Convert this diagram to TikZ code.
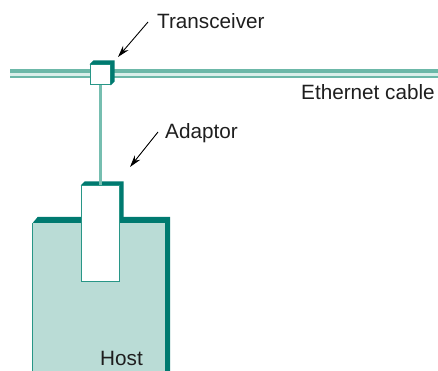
\documentclass[tikz,border=0pt]{standalone}
\usepackage{fontspec}
\setmainfont{Liberation Sans}
\usetikzlibrary{arrows.meta, backgrounds}

\definecolor{tealdark}{RGB}{0,122,112}
\definecolor{tealrim}{RGB}{40,150,135}
\definecolor{hostfill}{RGB}{186,220,214}
\definecolor{cableout}{RGB}{108,184,168}
\definecolor{cablein}{RGB}{218,239,234}
\definecolor{dropline}{RGB}{118,190,176}
\definecolor{textgray}{RGB}{30,30,30}

\begin{document}
\begin{tikzpicture}[x=1pt, y=-1pt, font=\fontsize{20.7}{24}\selectfont]
        \tikzstyle{tag} = [inner sep=0pt, anchor=base west, text=textgray]
        \tikzstyle{pointer} = [draw, -{Stealth[length=12pt, width=7pt]}, line width=0.9pt]
        \tikzstyle{whitebox} = [rectangle, draw=tealrim, line width=1pt, fill=white, inner sep=0pt]
        \tikzstyle{rim} = [fill=tealdark]

        \useasboundingbox (0,0) rectangle (438,371);

        % Cable
        \coordinate (cableW) at (10,73.5);
        \coordinate (cableE) at (438,73.5);
        \draw [cableout, line width=9pt] (cableW) -- (cableE);
        \draw [cablein, line width=2.8pt] ([yshift=-1pt]cableW) -- ([yshift=-1pt]cableE);

        % Nodes
        \node [whitebox, minimum width=20pt, minimum height=20pt] (xcvr) at (100,75) {};
        \fill [rim] (xcvr.north west) -- ++(4,-4) -- ([shift={(4,-4)}]xcvr.north east)
            -- ([shift={(4,-4)}]xcvr.south east) -- (xcvr.south east) -- (xcvr.north east) -- cycle;

        \node [rectangle, fill=hostfill, inner sep=0pt, minimum width=132pt, minimum height=148pt] (host) at (99,297) {};
        \draw [tealrim, line width=1pt] (host.south west) -- (host.north west);
        \fill [rim] (host.north west) -- ++(5,-6) -- ([shift={(5,-6)}]host.north east)
            -- ([shift={(5,0)}]host.south east) -- (host.south east) -- (host.north east) -- cycle;

        \node [whitebox, minimum width=38pt, minimum height=95pt] (adaptor) at (100,233.5) {};
        \begin{scope}[on background layer]
            \fill [rim] (adaptor.north west) -- ++(4,-4) -- ([shift={(4,-4)}]adaptor.north east)
                -- ([shift={(4,-4)}]adaptor.south east) -- (adaptor.south east) -- (adaptor.north east) -- cycle;
        \end{scope}

        \node [tag] (trlabel) at (157,28.3) {Transceiver};
        \node [tag] (adlabel) at (165,139) {Adaptor};
        \node [tag] (cablelabel) at (301,99.3) {Ethernet cable};
        \node [tag] (hostlabel) at (100,365) {Host};

        % Paths
        \draw [dropline, line width=3pt] (xcvr.south) -- (adaptor.north);
        \coordinate (trtail) at (148,22);
        \coordinate (trtip) at (118,57);
        \coordinate (adtail) at (158,132);
        \coordinate (adtip) at (130,167);
        \path [pointer] (trtail) -- (trtip);
        \path [pointer] (adtail) -- (adtip);
\end{tikzpicture}
\end{document}
